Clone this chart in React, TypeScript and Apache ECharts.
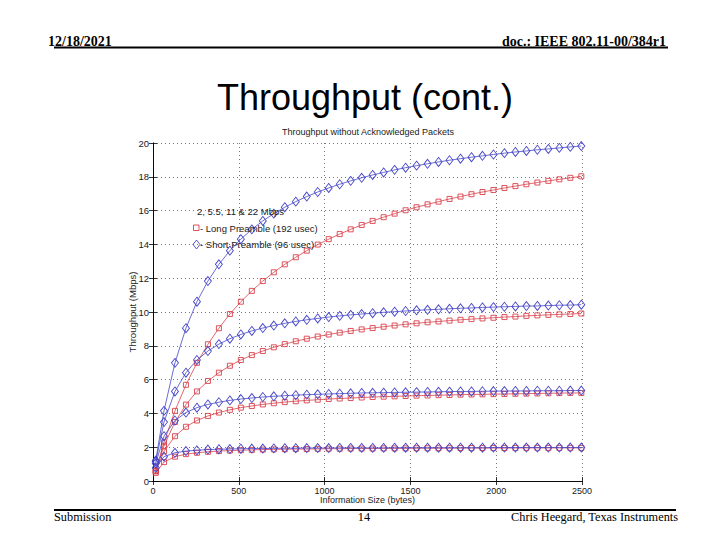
import React, { useEffect, useRef } from "react";
import * as echarts from "echarts";

// Information size (bytes)
const sizes = [16, 64, 128, 192, 256, 320, 384, 448, 512, 576, 640, 704, 768, 832, 896, 960, 1024, 1088, 1152, 1216, 1280, 1344, 1408, 1472, 1536, 1600, 1664, 1728, 1792, 1856, 1920, 1984, 2048, 2112, 2176, 2240, 2304, 2368, 2432, 2496];

// Throughput (Mbps) – long preamble (192 usec)
const long22 = [0.62, 2.29, 4.15, 5.69, 6.99, 8.09, 9.04, 9.88, 10.61, 11.25, 11.83, 12.35, 12.82, 13.24, 13.63, 13.99, 14.31, 14.61, 14.89, 15.15, 15.39, 15.61, 15.82, 16.02, 16.2, 16.37, 16.53, 16.69, 16.83, 16.97, 17.1, 17.22, 17.34, 17.45, 17.56, 17.66, 17.76, 17.85, 17.94, 18.03];
const long11 = [0.6, 2.08, 3.49, 4.52, 5.3, 5.92, 6.41, 6.82, 7.16, 7.45, 7.69, 7.91, 8.1, 8.27, 8.42, 8.55, 8.67, 8.78, 8.88, 8.97, 9.05, 9.13, 9.2, 9.27, 9.33, 9.39, 9.44, 9.49, 9.54, 9.58, 9.62, 9.66, 9.7, 9.73, 9.77, 9.8, 9.83, 9.86, 9.88, 9.91];
const long55 = [0.57, 1.75, 2.65, 3.21, 3.58, 3.85, 4.05, 4.21, 4.34, 4.44, 4.53, 4.6, 4.67, 4.72, 4.77, 4.81, 4.85, 4.88, 4.91, 4.94, 4.97, 4.99, 5.01, 5.03, 5.05, 5.06, 5.08, 5.09, 5.11, 5.12, 5.13, 5.14, 5.15, 5.16, 5.17, 5.18, 5.19, 5.2, 5.21, 5.21];
const long2 = [0.48, 1.12, 1.44, 1.59, 1.67, 1.73, 1.77, 1.8, 1.82, 1.84, 1.86, 1.87, 1.88, 1.89, 1.89, 1.9, 1.91, 1.91, 1.92, 1.92, 1.92, 1.93, 1.93, 1.93, 1.94, 1.94, 1.94, 1.94, 1.95, 1.95, 1.95, 1.95, 1.95, 1.95, 1.96, 1.96, 1.96, 1.96, 1.96, 1.96];

// Throughput (Mbps) – short preamble (96 usec)
const short22 = [1.21, 4.15, 6.99, 9.04, 10.61, 11.83, 12.82, 13.63, 14.31, 14.89, 15.39, 15.82, 16.2, 16.53, 16.83, 17.1, 17.34, 17.56, 17.76, 17.94, 18.11, 18.26, 18.41, 18.54, 18.66, 18.77, 18.88, 18.98, 19.07, 19.16, 19.24, 19.32, 19.4, 19.47, 19.53, 19.6, 19.65, 19.71, 19.77, 19.82];
const short11 = [1.15, 3.49, 5.3, 6.41, 7.16, 7.69, 8.1, 8.42, 8.67, 8.88, 9.05, 9.2, 9.33, 9.44, 9.54, 9.62, 9.7, 9.77, 9.83, 9.88, 9.93, 9.98, 10.02, 10.06, 10.1, 10.13, 10.16, 10.19, 10.22, 10.24, 10.27, 10.29, 10.31, 10.33, 10.35, 10.36, 10.38, 10.4, 10.41, 10.43];
const short55 = [1.04, 2.65, 3.58, 4.05, 4.34, 4.53, 4.66, 4.77, 4.85, 4.91, 4.97, 5.01, 5.05, 5.08, 5.11, 5.13, 5.15, 5.17, 5.19, 5.21, 5.22, 5.23, 5.24, 5.25, 5.26, 5.27, 5.28, 5.29, 5.3, 5.3, 5.31, 5.32, 5.32, 5.33, 5.33, 5.34, 5.34, 5.34, 5.35, 5.35];
const short2 = [0.78, 1.44, 1.67, 1.77, 1.82, 1.86, 1.88, 1.89, 1.91, 1.92, 1.92, 1.93, 1.94, 1.94, 1.95, 1.95, 1.95, 1.96, 1.96, 1.96, 1.96, 1.96, 1.97, 1.97, 1.97, 1.97, 1.97, 1.97, 1.97, 1.97, 1.97, 1.98, 1.98, 1.98, 1.98, 1.98, 1.98, 1.98, 1.98, 1.98];

const longSeries = [
  { name: "22 Mbps Long", values: long22 },
  { name: "11 Mbps Long", values: long11 },
  { name: "5.5 Mbps Long", values: long55 },
  { name: "2 Mbps Long", values: long2 },
];
const shortSeries = [
  { name: "22 Mbps Short", values: short22 },
  { name: "11 Mbps Short", values: short11 },
  { name: "5.5 Mbps Short", values: short55 },
  { name: "2 Mbps Short", values: short2 },
];

const RED = "#d9414b";
const BLUE = "#4646c8";
const SANS = "Liberation Sans, Arial, sans-serif";
const SERIF = "Liberation Serif, Times New Roman, serif";

export default function App() {
  const ref = useRef<HTMLDivElement>(null);

  useEffect(() => {
    if (!ref.current) return;
    const chart = echarts.init(ref.current, null, { renderer: "svg" });

    const mk = (s: { name: string; values: number[] }, color: string, symbol: string, size: any, z: number) => ({
      name: s.name,
      type: "line",
      data: sizes.map((x, i) => [x, s.values[i]]),
      symbol,
      symbolSize: size,
      showSymbol: true,
      z,
      lineStyle: { color, width: 0.8 },
      itemStyle: { color: "rgba(255,255,255,0)", borderColor: color, borderWidth: 0.9 },
      emphasis: { disabled: true },
    });

    const axisCommon = {
      axisLine: { show: true, lineStyle: { color: "#000", width: 0.8 } },
      axisTick: { show: true, inside: true, length: 4, lineStyle: { color: "#000", width: 0.8 } },
    };

    const option: any = {
      animation: false,
      backgroundColor: "#fff",
      grid: { left: 153, top: 143, width: 429, height: 338, containLabel: false },
      xAxis: [
        {
          type: "value",
          min: 0,
          max: 2500,
          interval: 500,
          position: "bottom",
          ...axisCommon,
          axisLabel: { color: "#1a1a1a", fontSize: 9, fontFamily: SANS, margin: 5, formatter: (v: number) => String(v) },
          splitLine: { show: true, lineStyle: { color: "#555", width: 0.8, type: [1, 3] } },
          name: "Information Size (bytes)",
          nameLocation: "middle",
          nameGap: 14,
          nameMoveOverlap: false,
          nameTextStyle: { color: "#1a1a1a", fontSize: 9, fontFamily: SANS },
        },
        {
          type: "value",
          min: 0,
          max: 2500,
          interval: 500,
          position: "top",
          ...axisCommon,
          axisLabel: { show: false },
          splitLine: { show: false },
        },
      ],
      yAxis: [
        {
          type: "value",
          min: 0,
          max: 20,
          interval: 2,
          position: "left",
          ...axisCommon,
          axisLabel: { color: "#1a1a1a", fontSize: 9.5, fontFamily: SANS, margin: 4, formatter: (v: number) => String(v) },
          splitLine: { show: true, lineStyle: { color: "#555", width: 0.8, type: [1, 3] } },
          name: "Throughput (Mbps)",
          nameLocation: "middle",
          nameGap: 16,
          nameMoveOverlap: false,
          nameTextStyle: { color: "#1a1a1a", fontSize: 9.5, fontFamily: SANS },
        },
        {
          type: "value",
          min: 0,
          max: 20,
          interval: 2,
          position: "right",
          ...axisCommon,
          axisLabel: { show: false },
          splitLine: { show: false },
        },
      ],
      series: [
        ...longSeries.map((s) => mk(s, RED, "rect", 5, 2)),
        ...shortSeries.map((s) => mk(s, BLUE, "diamond", [7, 9], 3)),
      ],
      graphic: [
        // header
        { type: "text", x: 48, y: 41, style: { text: "12/18/2021", font: "bold 14px " + SERIF, fill: "#000", verticalAlign: "middle" } },
        { type: "text", x: 666, y: 41, style: { text: "doc.: IEEE 802.11-00/384r1", font: "bold 14px " + SERIF, fill: "#000", align: "right", verticalAlign: "middle" } },
        { type: "line", shape: { x1: 54, y1: 47.5, x2: 668, y2: 47.5 }, style: { stroke: "#000", lineWidth: 2 } },
        // slide title
        { type: "text", x: 365, y: 97, style: { text: "Throughput (cont.)", font: "36px " + SANS, fill: "#000", align: "center", verticalAlign: "middle" } },
        // chart title
        { type: "text", x: 368, y: 132, style: { text: "Throughput without Acknowledged Packets", font: "9px " + SANS, fill: "#1a1a1a", align: "center", verticalAlign: "middle" } },
        // legend-like annotation
        { type: "text", x: 197, y: 211, z: 10, style: { text: "2, 5.5, 11 & 22 Mbps", font: "9.5px " + SANS, fill: "#1a1a1a", verticalAlign: "middle" } },
        { type: "rect", z: 10, shape: { x: 193.5, y: 225, width: 5.5, height: 5.5 }, style: { fill: "none", stroke: RED, lineWidth: 0.9 } },
        { type: "text", x: 200, y: 228, z: 10, style: { text: "- Long Preamble (192 usec)", font: "9.5px " + SANS, fill: "#1a1a1a", verticalAlign: "middle" } },
        { type: "polygon", z: 10, shape: { points: [[196.5, 240], [200, 244.5], [196.5, 249], [193, 244.5]] }, style: { fill: "none", stroke: BLUE, lineWidth: 0.9 } },
        { type: "text", x: 200, y: 244.5, z: 10, style: { text: "- Short Preamble (96 usec)", font: "9.5px " + SANS, fill: "#1a1a1a", verticalAlign: "middle" } },
        // footer
        { type: "line", shape: { x1: 54, y1: 510, x2: 676, y2: 510 }, style: { stroke: "#000", lineWidth: 2 } },
        { type: "text", x: 54, y: 517, style: { text: "Submission", font: "12.3px " + SERIF, fill: "#000", verticalAlign: "middle" } },
        { type: "text", x: 364, y: 517, style: { text: "14", font: "12.3px " + SERIF, fill: "#000", align: "center", verticalAlign: "middle" } },
        { type: "text", x: 678, y: 517, style: { text: "Chris Heegard, Texas Instruments", font: "12.3px " + SERIF, fill: "#000", align: "right", verticalAlign: "middle" } },
      ],
    };

    chart.setOption(option);
    return () => chart.dispose();
  }, []);

  return <div ref={ref} style={{ position: "absolute", left: 0, top: 0, width: 720, height: 540 }} />;
}
